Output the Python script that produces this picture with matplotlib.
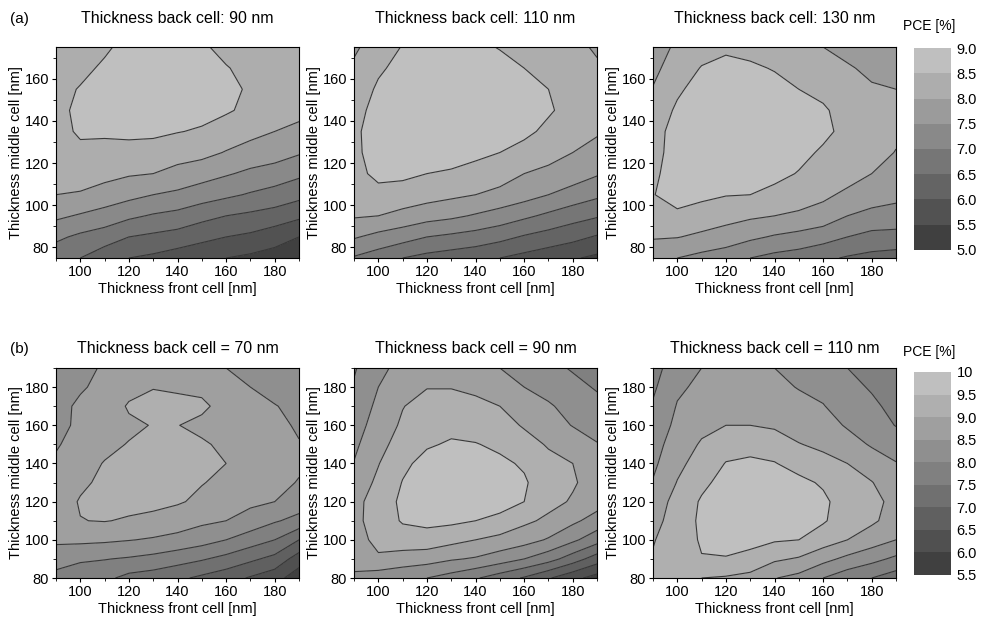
import numpy as np
import matplotlib
matplotlib.use("Agg")
from matplotlib import pyplot as plt
from matplotlib.colors import ListedColormap, BoundaryNorm
from matplotlib.ticker import MultipleLocator

plt.rcParams['font.family'] = ['Liberation Sans', 'DejaVu Sans']

# grid: front cell thickness (columns) and middle cell thickness (rows)
front = [90, 100, 110, 120, 130, 140, 150, 160, 170, 180, 190]
middle_a = [75, 85, 95, 105, 115, 125, 135, 145, 155, 165, 175]
middle_b = [80, 90, 100, 110, 120, 130, 140, 150, 160, 170, 180, 190]

levels_a = [5.0, 5.5, 6.0, 6.5, 7.0, 7.5, 8.0, 8.5, 9.0]
levels_b = [5.5, 6.0, 6.5, 7.0, 7.5, 8.0, 8.5, 9.0, 9.5, 10.0]
cbar_labels_a = ["5.0", "5.5", "6.0", "6.5", "7.0", "7.5", "8.0", "8.5", "9.0"]
cbar_labels_b = ["5.5", "6.0", "6.5", "7.0", "7.5", "8.0", "8.5", "9.0", "9.5", "10"]

# PCE [%], one list per front cell thickness (bottom -> top in middle cell)
# (a) back cell 90 nm
pce_a90 = [
    [6.7, 7.1, 7.6, 8.0, 8.2, 8.32, 8.38, 8.4, 8.4, 8.35, 8.3],
    [6.5, 6.9, 7.45, 7.95, 8.25, 8.42, 8.55, 8.58, 8.52, 8.42, 8.35],
    [6.2, 6.75, 7.3, 7.8, 8.15, 8.4, 8.55, 8.65, 8.62, 8.55, 8.45],
    [6.0, 6.5, 7.1, 7.65, 8.05, 8.35, 8.6, 8.72, 8.77, 8.72, 8.6],
    [5.9, 6.4, 6.95, 7.5, 8.0, 8.3, 8.6, 8.72, 8.78, 8.75, 8.7],
    [5.75, 6.3, 6.85, 7.4, 7.85, 8.2, 8.52, 8.7, 8.75, 8.72, 8.65],
    [5.6, 6.15, 6.65, 7.25, 7.7, 8.15, 8.45, 8.65, 8.7, 8.65, 8.55],
    [5.5, 6.0, 6.5, 7.1, 7.55, 7.97, 8.3, 8.55, 8.6, 8.52, 8.4],
    [5.4, 5.9, 6.4, 6.95, 7.4, 7.8, 8.15, 8.4, 8.45, 8.4, 8.35],
    [5.3, 5.7, 6.3, 6.8, 7.3, 7.7, 8.0, 8.2, 8.35, 8.4, 8.35],
    [5.2, 5.5, 6.1, 6.65, 7.1, 7.55, 7.87, 8.15, 8.3, 8.35, 8.3],
]
# (a) back cell 110 nm
pce_a110 = [
    [6.95, 7.55, 8.05, 8.25, 8.4, 8.45, 8.45, 8.4, 8.3, 8.1, 7.9],
    [6.75, 7.35, 8.0, 8.4, 8.58, 8.6, 8.62, 8.6, 8.55, 8.45, 8.3],
    [6.5, 7.2, 7.85, 8.3, 8.6, 8.7, 8.72, 8.72, 8.68, 8.6, 8.52],
    [6.35, 7.0, 7.7, 8.2, 8.5, 8.7, 8.78, 8.8, 8.78, 8.7, 8.6],
    [6.25, 6.9, 7.6, 8.1, 8.45, 8.68, 8.8, 8.82, 8.8, 8.72, 8.62],
    [6.15, 6.8, 7.45, 8.0, 8.35, 8.6, 8.75, 8.8, 8.78, 8.7, 8.58],
    [6.0, 6.65, 7.3, 7.85, 8.25, 8.5, 8.7, 8.75, 8.72, 8.62, 8.48],
    [5.85, 6.45, 7.1, 7.7, 8.0, 8.35, 8.6, 8.68, 8.62, 8.5, 8.38],
    [5.7, 6.3, 6.9, 7.5, 7.9, 8.15, 8.4, 8.55, 8.5, 8.38, 8.25],
    [5.55, 6.15, 6.7, 7.3, 7.75, 8.0, 8.25, 8.35, 8.3, 8.2, 8.1],
    [5.4, 5.95, 6.55, 7.1, 7.55, 7.85, 8.05, 8.15, 8.15, 8.05, 7.95],
]
# (a) back cell 130 nm
pce_a130 = [
    [7.6, 8.05, 8.35, 8.49, 8.45, 8.42, 8.4, 8.3, 8.03, 7.85, 7.6],
    [7.5, 8.02, 8.45, 8.6, 8.62, 8.6, 8.6, 8.55, 8.45, 8.3, 8.15],
    [7.35, 7.9, 8.3, 8.6, 8.7, 8.72, 8.72, 8.7, 8.62, 8.52, 8.35],
    [7.25, 7.75, 8.2, 8.52, 8.7, 8.78, 8.8, 8.75, 8.68, 8.58, 8.45],
    [7.0, 7.6, 8.08, 8.5, 8.68, 8.78, 8.8, 8.75, 8.65, 8.55, 8.4],
    [6.85, 7.45, 8.0, 8.4, 8.6, 8.72, 8.75, 8.7, 8.6, 8.48, 8.3],
    [6.75, 7.35, 7.9, 8.3, 8.48, 8.6, 8.68, 8.62, 8.5, 8.35, 8.15],
    [6.6, 7.2, 7.8, 8.1, 8.35, 8.45, 8.58, 8.55, 8.4, 8.2, 8.0],
    [6.45, 7.0, 7.5, 7.9, 8.2, 8.35, 8.4, 8.35, 8.2, 8.05, 7.85],
    [6.35, 6.85, 7.35, 7.75, 8.0, 8.2, 8.25, 8.2, 8.05, 7.9, 7.75],
    [6.3, 6.8, 7.35, 7.6, 7.8, 7.98, 8.1, 8.08, 8.0, 7.85, 7.7],
]
# (b) back cell 70 nm
pce_b70 = [
    [7.85, 8.2, 8.6, 8.75, 8.8, 8.72, 8.58, 8.45, 8.38, 8.35, 8.2, 8.1],
    [7.5, 8.12, 8.6, 8.99, 9.03, 8.93, 8.85, 8.7, 8.58, 8.58, 8.45, 8.38],
    [7.62, 8.02, 8.58, 9.02, 9.1, 9.08, 9.02, 8.9, 8.8, 8.72, 8.62, 8.55],
    [7.35, 7.95, 8.52, 8.95, 9.15, 9.2, 9.2, 9.02, 8.92, 9.05, 8.85, 8.7],
    [7.25, 7.85, 8.45, 8.85, 9.15, 9.22, 9.22, 9.15, 9.02, 9.15, 8.98, 8.8],
    [7.1, 7.7, 8.35, 8.75, 9.05, 9.2, 9.22, 9.18, 9.01, 9.1, 8.95, 8.8],
    [6.9, 7.55, 8.2, 8.6, 8.9, 9.02, 9.1, 9.05, 8.9, 9.08, 8.9, 8.75],
    [6.7, 7.35, 8.0, 8.5, 8.75, 8.9, 9.0, 8.92, 8.8, 8.85, 8.72, 8.5],
    [6.45, 7.1, 7.75, 8.3, 8.6, 8.75, 8.8, 8.75, 8.7, 8.62, 8.5, 8.3],
    [6.2, 6.85, 7.5, 8.05, 8.5, 8.65, 8.7, 8.65, 8.6, 8.52, 8.35, 8.15],
    [5.7, 6.25, 7.0, 7.85, 8.25, 8.47, 8.58, 8.52, 8.45, 8.38, 8.25, 8.05],
]
# (b) back cell 90 nm
pce_b90 = [
    [8.35, 8.8, 8.85, 8.88, 8.85, 8.7, 8.52, 8.4, 8.3, 8.2, 8.05, 7.95],
    [8.2, 8.95, 9.1, 9.2, 9.22, 9.1, 8.98, 8.85, 8.7, 8.6, 8.5, 8.38],
    [8.1, 8.8, 9.25, 9.55, 9.6, 9.52, 9.4, 9.2, 9.08, 8.98, 8.85, 8.65],
    [8.0, 8.7, 9.3, 9.62, 9.72, 9.75, 9.65, 9.45, 9.35, 9.2, 8.98, 8.75],
    [7.8, 8.55, 9.15, 9.6, 9.75, 9.78, 9.7, 9.55, 9.38, 9.2, 8.98, 8.72],
    [7.55, 8.45, 9.0, 9.5, 9.7, 9.75, 9.65, 9.52, 9.32, 9.12, 8.9, 8.62],
    [7.25, 8.25, 8.85, 9.4, 9.65, 9.68, 9.58, 9.42, 9.2, 9.0, 8.75, 8.5],
    [6.95, 8.0, 8.7, 9.1, 9.5, 9.55, 9.45, 9.2, 8.95, 8.75, 8.5, 8.3],
    [6.55, 7.7, 8.45, 8.9, 9.15, 9.25, 9.15, 8.95, 8.7, 8.55, 8.35, 8.15],
    [6.15, 7.25, 8.1, 8.6, 8.95, 9.05, 9.0, 8.75, 8.48, 8.35, 8.15, 7.95],
    [5.8, 6.75, 7.7, 8.3, 8.7, 8.8, 8.7, 8.52, 8.35, 8.15, 7.95, 7.8],
]
# (b) back cell 110 nm
pce_b110 = [
    [9.1, 9.04, 8.97, 8.82, 8.68, 8.53, 8.4, 8.3, 8.18, 8.05, 7.92, 7.8],
    [9.15, 9.2, 9.25, 9.25, 9.2, 9.02, 8.88, 8.75, 8.62, 8.53, 8.42, 8.3],
    [9.0, 9.48, 9.55, 9.58, 9.55, 9.4, 9.2, 9.05, 8.88, 8.72, 8.6, 8.5],
    [8.95, 9.48, 9.62, 9.7, 9.72, 9.65, 9.52, 9.3, 9.0, 8.85, 8.72, 8.6],
    [8.85, 9.35, 9.65, 9.75, 9.78, 9.72, 9.58, 9.35, 9.0, 8.85, 8.72, 8.62],
    [8.52, 9.08, 9.55, 9.72, 9.78, 9.7, 9.52, 9.3, 8.92, 8.75, 8.6, 8.5],
    [8.35, 8.95, 9.5, 9.65, 9.72, 9.6, 9.35, 9.02, 8.8, 8.62, 8.48, 8.3],
    [8.0, 8.65, 9.25, 9.55, 9.58, 9.45, 9.15, 8.9, 8.7, 8.52, 8.38, 8.2],
    [7.7, 8.38, 9.0, 9.25, 9.3, 9.22, 9.0, 8.7, 8.45, 8.3, 8.15, 8.0],
    [7.5, 8.15, 8.75, 9.08, 9.15, 9.02, 8.75, 8.45, 8.25, 8.1, 7.95, 7.8],
    [7.25, 7.9, 8.5, 8.8, 8.85, 8.7, 8.52, 8.3, 7.98, 7.85, 7.7, 7.6],
]

titles_a = ["Thickness back cell: 90 nm", "Thickness back cell: 110 nm", "Thickness back cell: 130 nm"]
titles_b = ["Thickness back cell = 70 nm", "Thickness back cell = 90 nm", "Thickness back cell = 110 nm"]


def gray_map(n):
    return ListedColormap([str(g) for g in np.linspace(0.25, 0.75, n)])


fig = plt.figure(figsize=(9.84, 6.18), dpi=100)

col_x = [0.0569, 0.3598, 0.6636]
col_w = 0.247
rows = [
    (0.5825, 0.3414, middle_a, [pce_a90, pce_a110, pce_a130], levels_a, titles_a, (75, 175), 0.970, "(a)"),
    (0.0647, 0.3398, middle_b, [pce_b70, pce_b90, pce_b110], levels_b, titles_b, (80, 190), 0.436, "(b)"),
]
cbar_pos = [(0.9289, 0.5955, 0.0376, 0.3268, 0.958, cbar_labels_a),
            (0.9289, 0.0696, 0.0376, 0.3285, 0.430, cbar_labels_b)]

for (y0, h, middle, data, levels, titles, ylim, ty, tag), cb in zip(rows, cbar_pos):
    cmap = gray_map(len(levels) - 1)
    norm = BoundaryNorm(levels, cmap.N)
    for i in range(3):
        ax = fig.add_axes([col_x[i], y0, col_w, h])
        z = np.array(data[i]).T
        cf = ax.contourf(front, middle, z, levels=levels, cmap=cmap, norm=norm)
        ax.contour(front, middle, z, levels=levels, colors='#383838', linewidths=0.8)
        ax.set_xlim(90, 190)
        ax.set_ylim(*ylim)
        ax.xaxis.set_major_locator(MultipleLocator(20))
        ax.xaxis.set_minor_locator(MultipleLocator(10))
        ax.yaxis.set_major_locator(MultipleLocator(20))
        ax.yaxis.set_minor_locator(MultipleLocator(10))
        ax.tick_params(which='major', direction='out', length=3, labelsize=10.5, pad=2)
        ax.tick_params(which='minor', direction='out', length=2)
        ax.set_xlabel("Thickness front cell [nm]", fontsize=10.5, labelpad=2)
        ax.set_ylabel("Thickness middle cell [nm]", fontsize=10.5, labelpad=1)
        fig.text(col_x[i] + col_w / 2, ty, titles[i], ha='center', va='center', fontsize=11.5)
    fig.text(0.010, ty, tag, ha='left', va='center', fontsize=11)

    cx, cy, cw, ch, ly, labels = cb
    cax = fig.add_axes([cx, cy, cw, ch])
    cbar = fig.colorbar(cf, cax=cax, ticks=levels)
    cbar.outline.set_visible(False)
    cbar.ax.set_yticklabels(labels)
    cbar.ax.tick_params(length=0, labelsize=10.5, pad=4)
    fig.text(0.918, ly, "PCE [%]", ha='left', va='center', fontsize=10)

fig.savefig("out.png", dpi=100)
